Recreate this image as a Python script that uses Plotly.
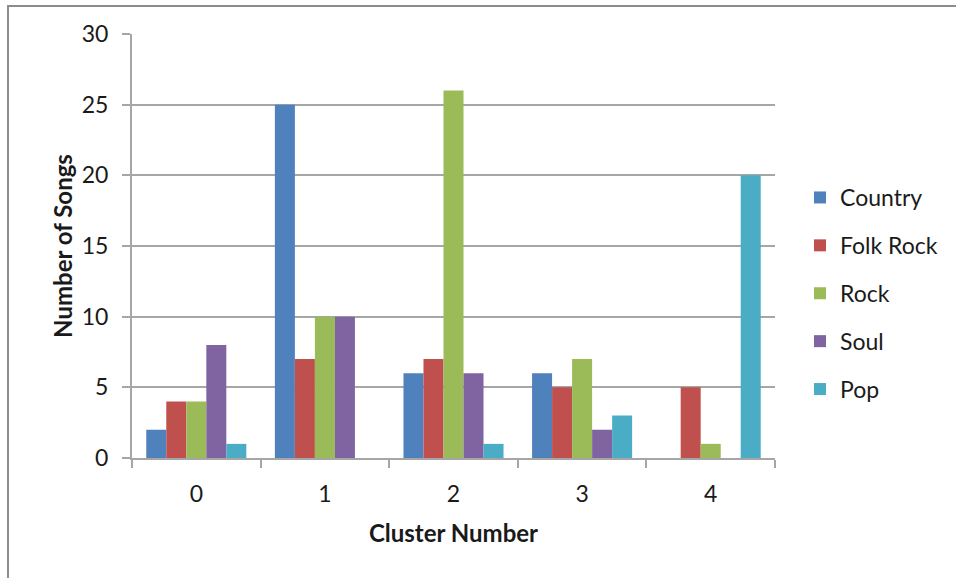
import plotly.graph_objects as go

clusters = ["0", "1", "2", "3", "4"]
country = [2, 25, 6, 6, 0]
folk_rock = [4, 7, 7, 5, 5]
rock = [4, 10, 26, 7, 1]
soul = [8, 10, 6, 2, 0]
pop = [1, 0, 1, 3, 20]

series = [
    ("Country", country, "#4F81BD"),
    ("Folk Rock", folk_rock, "#C0504D"),
    ("Rock", rock, "#9BBB59"),
    ("Soul", soul, "#8064A2"),
    ("Pop", pop, "#4BACC6"),
]

FONT = "Lato"
GRID = "#a6a6a6"
TXT = "#1a1a1a"

fig = go.Figure()
for i, (name, vals, color) in enumerate(series):
    fig.add_trace(go.Bar(
        x=clusters, y=vals, name=name, legendgroup=f"g{i}",
        marker=dict(color=color, line=dict(width=0)),
    ))

W, H = 956, 578
L, R, T, B = 132, 181, 34, 120
pw, ph = W - L - R, H - T - B

def px_x(p):
    return (p - L) / pw

def px_y(p):
    return (H - B - p) / ph

fig.update_layout(
    width=W, height=H,
    margin=dict(l=L, r=R, t=T, b=B),
    paper_bgcolor="white", plot_bgcolor="white",
    barmode="group", bargap=0.222, bargroupgap=0,
    font=dict(family=FONT, color=TXT),
    legend=dict(
        x=px_x(800), y=px_y(176), xanchor="left", yanchor="top",
        font=dict(size=23, family=FONT, color=TXT),
        tracegroupgap=15, itemwidth=30,
        bgcolor="rgba(0,0,0,0)",
    ),
    xaxis=dict(
        type="category",
        showgrid=False, showline=True, linecolor=GRID, linewidth=2,
        ticks="outside", tickson="boundaries", ticklen=8, tickwidth=2,
        tickcolor=GRID, tickfont=dict(size=23, family=FONT, color=TXT),
        ticklabelstandoff=14,
        title=dict(text="<b>Cluster Number</b>", font=dict(size=24, family=FONT, color=TXT),
                   standoff=20),
    ),
    yaxis=dict(
        range=[0, 30], dtick=5, tick0=0,
        showgrid=True, gridcolor=GRID, gridwidth=1.5,
        showline=True, linecolor=GRID, linewidth=2,
        ticks="outside", ticklen=8, tickwidth=2, tickcolor=GRID,
        tickfont=dict(size=23, family=FONT, color=TXT),
        ticklabelstandoff=9, zeroline=False,
        title=dict(text="<b>Number of Songs</b>", font=dict(size=24, family=FONT, color=TXT),
                   standoff=2),
    ),
    shapes=[dict(
        type="rect", xref="paper", yref="paper",
        x0=px_x(8), x1=px_x(990), y0=px_y(620), y1=px_y(6),
        line=dict(color="#8c8c8c", width=2), fillcolor="rgba(0,0,0,0)", layer="below",
    )],
)

fig.write_html("out.html")
